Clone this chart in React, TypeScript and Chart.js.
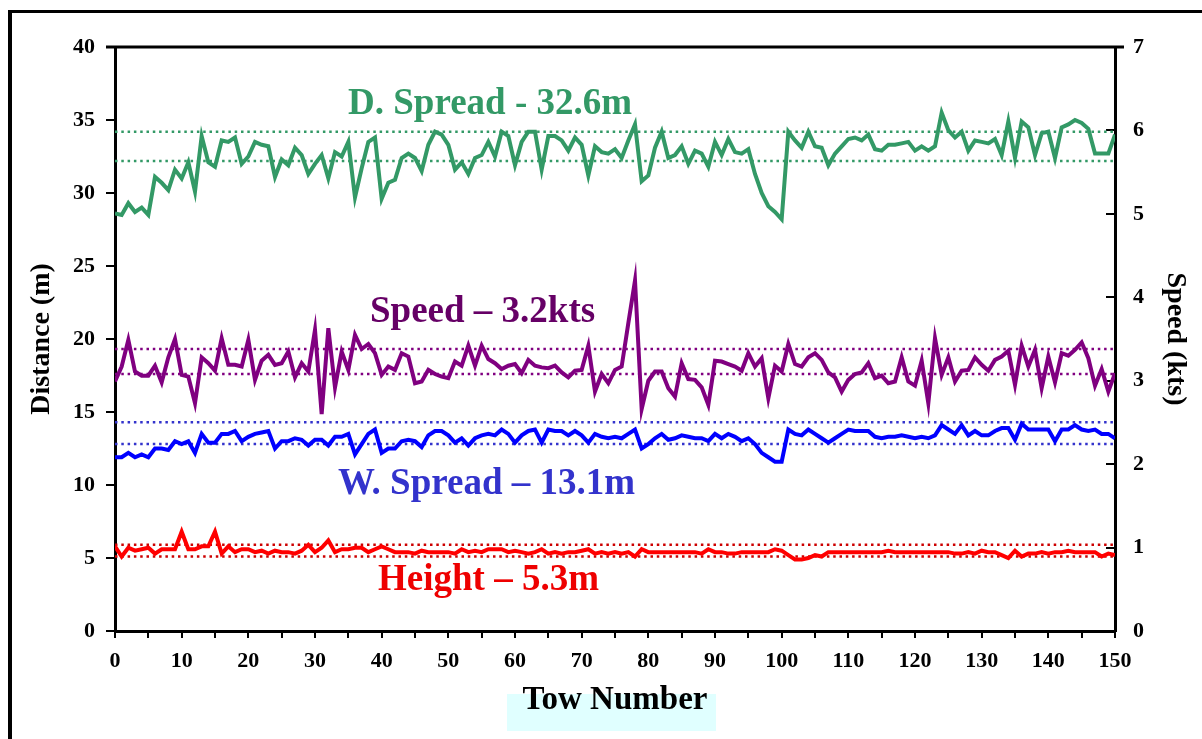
import React, { useEffect, useRef } from "react";
import { Chart, registerables } from "chart.js";

Chart.register(...registerables);

// Tow numbers along the x axis
const tows: number[] = Array.from({ length: 151 }, (_, i) => i);

// Door spread (m) per tow
const doorSpread: number[] = [
  28.6, 28.5, 29.3, 28.7, 29.0, 28.5, 31.1, 30.7, 30.2, 31.6,
  31.0, 32.1, 30.1, 33.9, 32.1, 31.8, 33.6, 33.5, 33.8, 32.0,
  32.5, 33.5, 33.3, 33.2, 31.1, 32.3, 31.9, 33.1, 32.6, 31.3,
  32.0, 32.6, 31.0, 32.8, 32.5, 33.5, 29.7, 31.7, 33.5, 33.8,
  29.6, 30.7, 30.9, 32.4, 32.7, 32.4, 31.5, 33.3, 34.2, 34.0,
  33.3, 31.6, 32.1, 31.3, 32.4, 32.6, 33.5, 32.5, 34.2, 33.9,
  31.9, 33.5, 34.2, 34.2, 31.6, 33.9, 33.9, 33.6, 32.9, 33.8,
  33.3, 31.2, 33.2, 32.8, 32.7, 33.0, 32.4, 33.6, 34.7, 30.8,
  31.2, 33.1, 34.2, 32.4, 32.6, 33.2, 32.0, 32.9, 32.7, 31.8,
  33.5, 32.6, 33.7, 32.8, 32.7, 33.0, 31.3, 30.0, 29.1, 28.7,
  28.2, 34.2, 33.6, 33.1, 34.2, 33.2, 33.1, 31.9, 32.7, 33.2,
  33.7, 33.8, 33.6, 34.0, 33.0, 32.9, 33.3, 33.3, 33.4, 33.5,
  32.9, 33.2, 32.9, 33.2, 35.5, 34.3, 33.8, 34.2, 32.9, 33.6,
  33.5, 33.4, 33.7, 32.6, 34.9, 32.4, 34.9, 34.5, 32.6, 34.1,
  34.2, 32.4, 34.5, 34.7, 35.0, 34.8, 34.4, 32.7, 32.7, 32.7,
  34.0,
];

// Towing speed (kts) per tow
const towSpeed: number[] = [
  2.99, 3.17, 3.49, 3.11, 3.06, 3.06, 3.18, 2.98, 3.28, 3.50,
  3.07, 3.05, 2.73, 3.28, 3.21, 3.12, 3.51, 3.19, 3.19, 3.17,
  3.49, 3.01, 3.24, 3.31, 3.19, 3.21, 3.35, 3.04, 3.21, 3.11,
  3.61, 2.60, 3.63, 2.92, 3.35, 3.13, 3.55, 3.38, 3.44, 3.33,
  3.07, 3.17, 3.13, 3.33, 3.29, 2.97, 2.99, 3.13, 3.08, 3.05,
  3.03, 3.23, 3.18, 3.42, 3.18, 3.42, 3.26, 3.21, 3.14, 3.18,
  3.20, 3.09, 3.25, 3.18, 3.16, 3.15, 3.18, 3.10, 3.04, 3.12,
  3.13, 3.42, 2.87, 3.08, 2.97, 3.13, 3.17, 3.69, 4.20, 2.66,
  3.00, 3.11, 3.11, 2.91, 2.81, 3.21, 3.02, 3.01, 2.92, 2.71,
  3.24, 3.23, 3.20, 3.17, 3.12, 3.33, 3.17, 3.27, 2.79, 3.18,
  3.11, 3.44, 3.20, 3.17, 3.28, 3.33, 3.25, 3.10, 3.04, 2.87,
  3.01, 3.08, 3.10, 3.21, 3.03, 3.06, 2.97, 2.99, 3.28, 2.99,
  2.94, 3.24, 2.73, 3.51, 3.07, 3.28, 2.99, 3.12, 3.13, 3.28,
  3.19, 3.12, 3.25, 3.29, 3.36, 2.95, 3.42, 3.17, 3.37, 2.91,
  3.29, 2.98, 3.33, 3.30, 3.37, 3.46, 3.27, 2.94, 3.14, 2.87,
  3.09,
];

// Wing spread (m) per tow
const wingSpread: number[] = [
  11.9, 11.9, 12.2, 11.9, 12.1, 11.9, 12.5, 12.5, 12.4, 13.0,
  12.8, 13.0, 12.2, 13.5, 12.9, 12.9, 13.5, 13.5, 13.7, 13.0,
  13.3, 13.5, 13.6, 13.7, 12.5, 13.0, 13.0, 13.2, 13.1, 12.7,
  13.1, 13.1, 12.7, 13.3, 13.3, 13.5, 12.1, 12.8, 13.5, 13.8,
  12.2, 12.5, 12.5, 13.0, 13.1, 13.0, 12.6, 13.4, 13.7, 13.7,
  13.4, 12.9, 13.2, 12.7, 13.2, 13.4, 13.5, 13.4, 13.8, 13.5,
  12.9, 13.4, 13.7, 13.8, 12.9, 13.8, 13.7, 13.7, 13.4, 13.7,
  13.4, 12.9, 13.5, 13.3, 13.2, 13.3, 13.2, 13.5, 13.8, 12.5,
  12.8, 13.2, 13.5, 13.1, 13.2, 13.4, 13.3, 13.2, 13.2, 13.0,
  13.5, 13.2, 13.5, 13.3, 13.0, 13.2, 12.8, 12.2, 11.9, 11.6,
  11.6, 13.8, 13.5, 13.4, 13.8, 13.5, 13.2, 12.9, 13.2, 13.5,
  13.8, 13.7, 13.7, 13.7, 13.3, 13.2, 13.3, 13.3, 13.4, 13.3,
  13.2, 13.3, 13.2, 13.4, 14.1, 13.8, 13.5, 14.1, 13.4, 13.7,
  13.4, 13.4, 13.7, 13.9, 13.9, 13.1, 14.2, 13.8, 13.8, 13.8,
  13.8, 13.0, 13.8, 13.8, 14.1, 13.8, 13.7, 13.8, 13.5, 13.5,
  13.2,
];

// Headline height (m) per tow
const headlineHeight: number[] = [
  5.8, 5.1, 5.7, 5.5, 5.6, 5.7, 5.3, 5.6, 5.6, 5.6,
  6.8, 5.6, 5.6, 5.8, 5.8, 6.8, 5.3, 5.8, 5.4, 5.6,
  5.6, 5.4, 5.5, 5.3, 5.5, 5.4, 5.4, 5.3, 5.5, 5.9,
  5.4, 5.7, 6.2, 5.4, 5.6, 5.6, 5.7, 5.7, 5.4, 5.6,
  5.8, 5.6, 5.4, 5.4, 5.4, 5.3, 5.5, 5.4, 5.4, 5.4,
  5.4, 5.3, 5.6, 5.4, 5.5, 5.4, 5.6, 5.6, 5.6, 5.4,
  5.5, 5.4, 5.3, 5.4, 5.6, 5.3, 5.4, 5.3, 5.4, 5.4,
  5.5, 5.6, 5.3, 5.4, 5.3, 5.4, 5.3, 5.4, 5.1, 5.6,
  5.4, 5.4, 5.4, 5.4, 5.4, 5.4, 5.4, 5.4, 5.3, 5.6,
  5.4, 5.4, 5.3, 5.3, 5.4, 5.4, 5.4, 5.4, 5.4, 5.6,
  5.5, 5.2, 4.9, 4.9, 5.0, 5.2, 5.1, 5.4, 5.4, 5.4,
  5.4, 5.4, 5.4, 5.4, 5.4, 5.4, 5.5, 5.4, 5.4, 5.4,
  5.4, 5.4, 5.4, 5.4, 5.4, 5.4, 5.3, 5.3, 5.4, 5.3,
  5.5, 5.4, 5.4, 5.2, 5.0, 5.5, 5.1, 5.3, 5.3, 5.4,
  5.3, 5.4, 5.4, 5.5, 5.4, 5.4, 5.4, 5.4, 5.1, 5.3,
  5.2,
];

// Band limits (upper, lower) drawn as dotted reference lines
const doorSpreadBand: number[] = [34.2, 32.2];
const towSpeedBand: number[] = [3.38, 3.08];
const wingSpreadBand: number[] = [14.3, 12.8];
const headlineHeightBand: number[] = [5.9, 5.1];

// Axis ranges
const towRange: number[] = [0, 150];
const distanceRange: number[] = [0, 40];
const speedRange: number[] = [0, 7];

// Series captions
const captions: string[] = [
  "D. Spread - 32.6m",
  "Speed \u2013 3.2kts",
  "W. Spread \u2013 13.1m",
  "Height \u2013 5.3m",
];

const SERIF = "'Liberation Serif', 'Times New Roman', serif";
const GREEN = "#339966";
const PURPLE = "#800080";
const BLUE = "#0000FF";
const RED = "#FF0000";

export default function App() {
  const canvasRef = useRef<HTMLCanvasElement | null>(null);

  useEffect(() => {
    const canvas = canvasRef.current;
    if (!canvas) return;

    const toPoints = (vals: number[]) => vals.map((v, i) => ({ x: tows[i], y: v }));
    const band = (v: number) => [
      { x: towRange[0], y: v },
      { x: towRange[1], y: v },
    ];

    const seriesLine = (label: string, vals: number[], color: string, axis: string) => ({
      label,
      data: toPoints(vals),
      yAxisID: axis,
      borderColor: color,
      backgroundColor: color,
      borderWidth: 4,
      pointRadius: 0,
      tension: 0,
      borderJoinStyle: "miter" as const,
      fill: false,
    });

    const dotted = (vals: number[], color: string, axis: string) =>
      vals.map((v) => ({
        label: "band",
        data: band(v),
        yAxisID: axis,
        borderColor: color,
        borderWidth: 2.5,
        borderDash: [2.5, 3.8],
        borderCapStyle: "butt" as const,
        pointRadius: 0,
        fill: false,
      }));

    // Outline along the top of the plot area
    const topEdge = {
      id: "topEdge",
      afterDraw(chart: any) {
        const { ctx, chartArea } = chart;
        ctx.save();
        ctx.strokeStyle = "#000";
        ctx.lineWidth = 3;
        ctx.beginPath();
        ctx.moveTo(chartArea.left - 9, chartArea.top);
        ctx.lineTo(chartArea.right + 9, chartArea.top);
        ctx.stroke();
        ctx.restore();
      },
    };

    // Series captions written inside the plot
    const captionPlugin = {
      id: "captions",
      afterDraw(chart: any) {
        const { ctx } = chart;
        const spots = [
          { text: captions[0], x: 348, y: 114, color: GREEN },
          { text: captions[1], x: 370, y: 322, color: "#660066" },
          { text: captions[2], x: 338, y: 494, color: "#3333CC" },
          { text: captions[3], x: 378, y: 590, color: "#EE0000" },
        ];
        ctx.save();
        ctx.font = `bold 37px ${SERIF}`;
        ctx.textAlign = "left";
        ctx.textBaseline = "alphabetic";
        for (const s of spots) {
          ctx.fillStyle = s.color;
          ctx.fillText(s.text, s.x, s.y);
        }
        ctx.restore();
      },
    };

    const tickFont = { family: SERIF, weight: "bold" as const, size: 22 };
    const titleFont = { family: SERIF, weight: "bold" as const, size: 28 };

    const chart = new Chart(canvas, {
      type: "line",
      data: {
        datasets: [
          seriesLine("D. Spread", doorSpread, GREEN, "y"),
          seriesLine("Speed", towSpeed, PURPLE, "y2"),
          seriesLine("W. Spread", wingSpread, BLUE, "y"),
          seriesLine("Height", headlineHeight, RED, "y"),
          ...dotted(doorSpreadBand, GREEN, "y"),
          ...dotted(towSpeedBand, PURPLE, "y2"),
          ...dotted(wingSpreadBand, "#3333CC", "y"),
          ...dotted(headlineHeightBand, "#CC0000", "y"),
        ] as any,
      },
      options: {
        animation: false,
        responsive: false,
        layout: { padding: { top: 47, left: 0, right: 0, bottom: 0 } },
        plugins: {
          legend: { display: false },
          tooltip: { enabled: false },
        },
        scales: {
          x: {
            type: "linear",
            position: "bottom",
            min: towRange[0],
            max: towRange[1],
            afterFit: (s: any) => {
              s.height = 108;
            },
            ticks: {
              stepSize: 5,
              autoSkip: false,
              maxRotation: 0,
              color: "#000",
              font: tickFont,
              padding: 10,
              callback: (v: any) => (Number(v) % 10 === 0 ? String(v) : ""),
            },
            grid: {
              drawOnChartArea: false,
              drawTicks: true,
              tickLength: 7,
              color: "#000",
              lineWidth: 2,
            },
            border: { display: true, color: "#000", width: 3 },
            title: {
              display: true,
              text: "Tow Number",
              color: "#000",
              font: { family: SERIF, weight: "bold", size: 33 },
              padding: { top: 0, bottom: 19 },
            },
          },
          y: {
            type: "linear",
            position: "left",
            min: distanceRange[0],
            max: distanceRange[1],
            afterFit: (s: any) => {
              s.width = 115;
            },
            ticks: { stepSize: 5, color: "#000", font: tickFont, padding: 11 },
            grid: {
              drawOnChartArea: false,
              drawTicks: true,
              tickLength: 9,
              color: "#000",
              lineWidth: 2,
            },
            border: { display: true, color: "#000", width: 3 },
            title: {
              display: true,
              text: "Distance (m)",
              color: "#000",
              font: titleFont,
              padding: { top: 25, bottom: 0 },
            },
          },
          y2: {
            type: "linear",
            position: "right",
            min: speedRange[0],
            max: speedRange[1],
            afterFit: (s: any) => {
              s.width = 87;
            },
            ticks: { stepSize: 1, color: "#000", font: tickFont, padding: 27 },
            grid: {
              drawOnChartArea: false,
              drawTicks: true,
              tickLength: -9,
              color: "#000",
              lineWidth: 2,
            },
            border: { display: true, color: "#000", width: 3 },
            title: {
              display: true,
              text: "Speed (kts)",
              color: "#000",
              font: titleFont,
              padding: { top: 10, bottom: 0 },
            },
          },
        },
      } as any,
      plugins: [topEdge, captionPlugin],
    });

    return () => chart.destroy();
  }, []);

  return (
    <div
      style={{
        position: "fixed",
        inset: 0,
        overflow: "hidden",
        background: "#fff",
      }}
    >
      <div
        style={{
          position: "absolute",
          left: 8,
          top: 10,
          width: 1400,
          height: 1000,
          borderLeft: "4px solid #000",
          borderTop: "3px solid #000",
        }}
      />
      <div
        style={{
          position: "absolute",
          left: 507,
          top: 694,
          width: 209,
          height: 37,
          background: "#E0FFFF",
        }}
      />
      <canvas
        ref={canvasRef}
        width={1202}
        height={739}
        style={{ position: "absolute", left: 0, top: 0, width: 1202, height: 739 }}
      />
    </div>
  );
}
